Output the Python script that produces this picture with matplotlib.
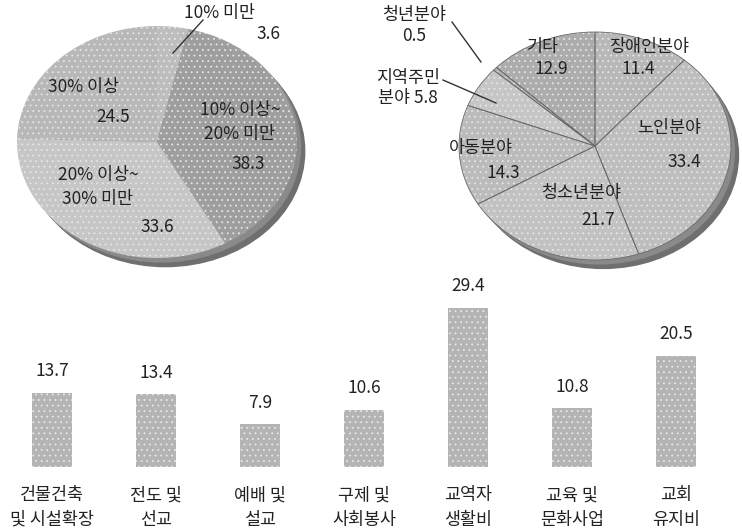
import matplotlib
matplotlib.use("Agg")
import matplotlib.pyplot as plt
from matplotlib.patches import Ellipse

plt.rcParams['font.family'] = ['Noto Sans CJK KR', 'DejaVu Sans']
plt.rcParams['hatch.linewidth'] = 0.6

# ---------------- data ----------------
ratio_labels = ['10% 미만', '10% 이상~\n20% 미만', '20% 이상~\n30% 미만', '30% 이상']
ratio_values = [3.6, 38.3, 33.6, 24.5]

field_labels = ['장애인분야', '노인분야', '청소년분야', '아동분야', '지역주민\n분야', '청년분야', '기타']
field_values = [11.4, 33.4, 21.7, 14.3, 5.8, 0.5, 12.9]

bar_labels = ['건물건축\n및 시설확장', '전도 및\n선교', '예배 및\n설교', '구제 및\n사회봉사',
              '교역자\n생활비', '교육 및\n문화사업', '교회\n유지비']
bar_values = [13.7, 13.4, 7.9, 10.6, 29.4, 10.8, 20.5]

W, H = 742, 529
fig = plt.figure(figsize=(W / 100, H / 100), dpi=100)
fig.patch.set_facecolor('white')
FS = 12.5


def px_axes(x0, y0, x1, y1):
    return fig.add_axes([x0 / W, 1 - y1 / H, (x1 - x0) / W, (y1 - y0) / H])


def ftxt(px, py, s, **kw):
    fig.text(px / W, 1 - py / H, s, ha='center', va='center', fontsize=FS,
             color='#222222', zorder=10, **kw)


def fline(p0, p1):
    fig.add_artist(plt.Line2D([p0[0] / W, p1[0] / W], [1 - p0[1] / H, 1 - p1[1] / H],
                              color='#333333', lw=1.0, transform=fig.transFigure))


def stipple(wedges):
    for w in wedges:
        w.set_hatch('...')


# ---------------- left pie ----------------
cx, cy, rx, ry = 157, 142, 140, 116
axL = px_axes(8, 18, 318, 276)
axL.add_patch(Ellipse((0.06, -0.08), 2.0, 2.0, facecolor='#6f6f6f', edgecolor='none', zorder=0))
axL.add_patch(Ellipse((0.03, -0.04), 2.0, 2.0, facecolor='#8a8a8a', edgecolor='none', zorder=0))
colsL = ['#bdbdbd', '#9e9e9e', '#c6c6c6', '#b8b8b8']
wL, _ = axL.pie(ratio_values, startangle=90, counterclock=False, colors=colsL,
                wedgeprops=dict(edgecolor='#e6e6e6', linewidth=0.0))
stipple(wL)
axL.set_xlim((8 - cx) / rx, (318 - cx) / rx)
axL.set_ylim((cy - 276) / ry, (cy - 18) / ry)
axL.set_aspect('auto')
axL.axis('off')

ftxt(220, 13, ratio_labels[0])
ftxt(268, 34, f'{ratio_values[0]}')
fline((203, 20), (173, 53))
ftxt(240, 122, ratio_labels[1], linespacing=1.45)
ftxt(248, 164, f'{ratio_values[1]}')
ftxt(98, 187, ratio_labels[2], linespacing=1.45)
ftxt(157, 227, f'{ratio_values[2]}')
ftxt(83, 87, ratio_labels[3])
ftxt(113, 117, f'{ratio_values[3]}')

# ---------------- right pie ----------------
cx, cy, rx, ry = 595, 146, 136, 114
axR = px_axes(452, 24, 742, 278)
axR.add_patch(Ellipse((0.06, -0.08), 2.0, 2.0, facecolor='#6f6f6f', edgecolor='none', zorder=0))
axR.add_patch(Ellipse((0.03, -0.04), 2.0, 2.0, facecolor='#8a8a8a', edgecolor='none', zorder=0))
colsR = ['#b8b8b8', '#bebebe', '#c2c2c2', '#bbbbbb', '#c6c6c6', '#b4b4b4', '#acacac']
wR, _ = axR.pie(field_values, startangle=90, counterclock=False, colors=colsR,
                wedgeprops=dict(edgecolor='#e6e6e6', linewidth=0.0))
stipple(wR)
for w in wR:
    axR.add_patch(plt.matplotlib.patches.Wedge(w.center, w.r, w.theta1, w.theta2,
                                               fill=False, edgecolor='#6a6a6a', linewidth=0.6))
axR.set_xlim((452 - cx) / rx, (742 - cx) / rx)
axR.set_ylim((cy - 278) / ry, (cy - 24) / ry)
axR.set_aspect('auto')
axR.axis('off')

ftxt(649, 47, field_labels[0])
ftxt(638, 69, f'{field_values[0]}')
ftxt(669, 128, field_labels[1])
ftxt(684, 162, f'{field_values[1]}')
ftxt(581, 193, field_labels[2])
ftxt(598, 220, f'{field_values[2]}')
ftxt(481, 148, field_labels[3])
ftxt(503, 173, f'{field_values[3]}')
ftxt(408, 78, '지역주민')
ftxt(408, 98, f'분야 {field_values[4]}')
fline((443, 80), (496, 103))
ftxt(414, 15, field_labels[5])
ftxt(414, 36, f'{field_values[5]}')
fline((452, 22), (481, 62))
ftxt(543, 47, field_labels[6])
ftxt(551, 69, f'{field_values[6]}')

# ---------------- bars ----------------
axB = px_axes(0, 280, 728, 467)
x = list(range(len(bar_values)))
bars = axB.bar(x, bar_values, width=0.39, color='#b4b4b4', edgecolor='#e8e8e8', linewidth=0)
for b in bars:
    b.set_hatch('...')
for xi, v in zip(x, bar_values):
    axB.annotate(f'{v}', (xi, v), xytext=(0, 9), textcoords='offset points',
                 ha='center', va='bottom', fontsize=FS, color='#222222')
axB.set_xlim(-0.5, len(bar_values) - 0.5)
axB.set_ylim(0, 34.5)
axB.set_xticks(x)
axB.set_xticklabels(bar_labels, fontsize=FS, linespacing=1.45, color='#222222')
axB.tick_params(axis='x', length=0, pad=14)
axB.set_yticks([])
for s in axB.spines.values():
    s.set_visible(False)

fig.savefig('out.png', dpi=100, facecolor='white')
